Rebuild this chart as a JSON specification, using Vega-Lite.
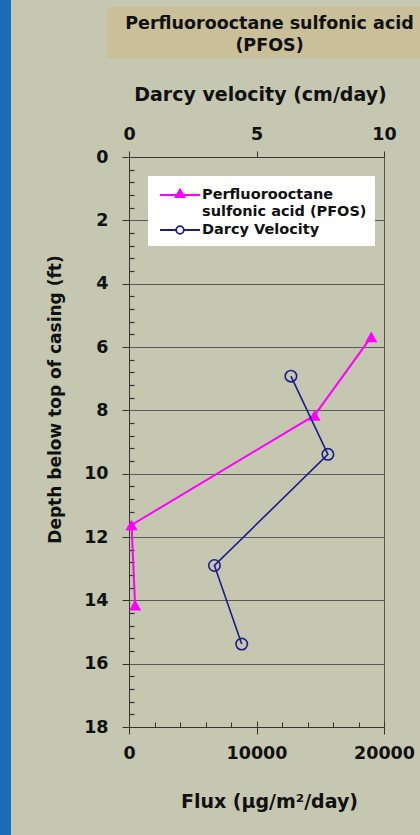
{
  "$schema": "https://vega.github.io/schema/vega-lite/v6.json",
  "width": 255,
  "height": 570,
  "autosize": {"type": "none"},
  "padding": {"left": 129, "top": 157, "right": 36, "bottom": 108},
  "background": "#c5c7b1",
  "title": {
    "text": ["Perfluorooctane sulfonic acid", "(PFOS)"],
    "font": "DejaVu Sans",
    "fontWeight": "bold",
    "fontSize": 17.5,
    "color": "#111111",
    "anchor": "middle",
    "lineHeight": 22,
    "offset": -54,
    "dx": 13
  },
  "datasets": {
    "pfos": [
      {"series": "Perfluorooctane sulfonic acid (PFOS)", "flux": 19000, "depth": 5.68},
      {"series": "Perfluorooctane sulfonic acid (PFOS)", "flux": 14550, "depth": 8.16},
      {"series": "Perfluorooctane sulfonic acid (PFOS)", "flux": 200, "depth": 11.62},
      {"series": "Perfluorooctane sulfonic acid (PFOS)", "flux": 480, "depth": 14.15}
    ],
    "darcy": [
      {"series": "Darcy Velocity", "velocity": 6.35, "depth": 6.92},
      {"series": "Darcy Velocity", "velocity": 7.8, "depth": 9.39},
      {"series": "Darcy Velocity", "velocity": 3.35, "depth": 12.9},
      {"series": "Darcy Velocity", "velocity": 4.42, "depth": 15.38}
    ]
  },
  "config": {
    "view": {"fill": "white", "stroke": "#555555", "strokeWidth": 1},
    "axis": {
      "labelFont": "DejaVu Sans",
      "labelFontWeight": "bold",
      "labelFontSize": 17.5,
      "labelColor": "#111111",
      "titleFont": "DejaVu Sans",
      "titleFontWeight": "bold",
      "titleColor": "#111111",
      "domainColor": "#333333",
      "tickColor": "#333333",
      "grid": true,
      "labelOverlap": false,
      "labelFlush": false,
      "labelBound": false
    }
  },
  "layer": [
    {
      "data": {"name": "pfos"},
      "encoding": {
        "x": {
          "field": "flux",
          "type": "quantitative",
          "scale": {"domain": [0, 20000], "nice": false, "zero": false},
          "axis": {
            "orient": "bottom",
            "values": [0, 2000, 4000, 6000, 8000, 10000, 12000, 14000, 16000, 18000, 20000],
            "tickCount": 100,
            "labelExpr": "datum.value % 10000 === 0 ? '' + datum.value : ''",
            "tickSize": 7,
            "labelPadding": 10,
            "tickOpacity": {"condition": {"test": "datum.value % 10000 !== 0", "value": 0}, "value": 1},
            "gridDash": {"condition": {"test": "datum.value % 10000 !== 0", "value": [5, 1000]}, "value": [6, 1000]},
            "gridColor": "#333333",
            "gridOpacity": 1,
            "title": "Flux (µg/m²/day)",
            "titleFontSize": 19,
            "titleX": 140,
            "titleY": 80,
            "titleBaseline": "alphabetic"
          }
        },
        "y": {
          "field": "depth",
          "type": "quantitative",
          "scale": {"domain": [0, 18], "reverse": true, "nice": false, "zero": false},
          "axis": {
            "orient": "left",
            "values": [0, 0.4, 0.8, 1.2, 1.6, 2, 2.4, 2.8, 3.2, 3.6, 4, 4.4, 4.8, 5.2, 5.6, 6, 6.4, 6.8, 7.2, 7.6, 8, 8.4, 8.8, 9.2, 9.6, 10, 10.4, 10.8, 11.2, 11.6, 12, 12.4, 12.8, 13.2, 13.6, 14, 14.4, 14.8, 15.2, 15.6, 16, 16.4, 16.8, 17.2, 17.6, 18],
            "tickCount": 100,
            "labelExpr": "datum.value % 2 === 0 ? '' + datum.value : ''",
            "tickSize": 7,
            "labelPadding": 14,
            "tickOpacity": {"condition": {"test": "datum.value % 2 !== 0", "value": 0}, "value": 1},
            "gridDash": {"condition": {"test": "datum.value % 2 !== 0", "value": [5, 1000]}, "value": []},
            "gridColor": {"condition": {"test": "datum.value % 2 !== 0", "value": "#333333"}, "value": "#5a5a5a"},
            "gridOpacity": 1,
            "gridWidth": 1.2,
            "title": "Depth below top of casing (ft)",
            "titleFontSize": 17,
            "titleX": -69,
            "titleY": 242,
            "titleBaseline": "alphabetic"
          }
        },
        "order": {"field": "depth", "type": "quantitative"}
      },
      "layer": [
        {"mark": {"type": "line", "color": "#ff00ff", "strokeWidth": 2}},
        {"mark": {"type": "point", "shape": "triangle-up", "filled": true, "color": "#ff00ff", "size": 150, "opacity": 1}}
      ]
    },
    {
      "data": {"name": "darcy"},
      "encoding": {
        "x": {
          "field": "velocity",
          "type": "quantitative",
          "scale": {"domain": [0, 10], "nice": false, "zero": false},
          "axis": {
            "orient": "top",
            "values": [0, 1, 2, 3, 4, 5, 6, 7, 8, 9, 10],
            "tickCount": 100,
            "labelExpr": "datum.value % 5 === 0 ? '' + datum.value : ''",
            "tickSize": 6,
            "labelPadding": 8,
            "tickOpacity": {"condition": {"test": "datum.value % 5 !== 0", "value": 0}, "value": 1},
            "gridDash": {"condition": {"test": "datum.value % 5 !== 0", "value": [5, 1000]}, "value": [6, 1000]},
            "gridColor": "#333333",
            "gridOpacity": 1,
            "title": "Darcy velocity (cm/day)",
            "titleFontSize": 19,
            "titleX": 131,
            "titleY": -57,
            "titleBaseline": "alphabetic"
          }
        },
        "y": {"field": "depth", "type": "quantitative", "axis": null},
        "order": {"field": "depth", "type": "quantitative"}
      },
      "layer": [
        {"mark": {"type": "line", "color": "#1c1c8c", "strokeWidth": 1.6}},
        {"mark": {"type": "point", "shape": "circle", "filled": false, "color": "#1c1c8c", "strokeWidth": 1.6, "size": 130, "opacity": 1}}
      ]
    },
    {
      "data": {"name": "pfos"},
      "transform": [{"filter": "datum.depth < 0"}],
      "mark": {"type": "point", "filled": true, "opacity": 1},
      "encoding": {
        "fill": {
          "field": "series",
          "type": "nominal",
          "scale": {"domain": ["Perfluorooctane sulfonic acid (PFOS)", "Darcy Velocity"], "range": ["#ff00ff", "#ffffff"]},
          "legend": {"orient": "none", "legendX": 19, "legendY": 19, "title": null, "fillColor": "white", "padding": 8, "symbolSize": 400, "symbolStrokeWidth": 1.8, "symbolOffset": 13, "labelOffset": 11, "labelFont": "DejaVu Sans", "labelFontWeight": "bold", "labelFontSize": 14.5, "labelColor": "#111111", "labelLimit": 300, "labelLineHeight": 19, "rowPadding": 1, "labelExpr": "datum.label == 'Perfluorooctane sulfonic acid (PFOS)' ? ['Perfluorooctane', 'sulfonic acid (PFOS)'] : datum.label"}
        },
        "stroke": {
          "field": "series",
          "type": "nominal",
          "scale": {"domain": ["Perfluorooctane sulfonic acid (PFOS)", "Darcy Velocity"], "range": ["#ff00ff", "#1c1c8c"]},
          "legend": {"orient": "none", "legendX": 19, "legendY": 19, "title": null, "fillColor": "white", "padding": 8, "symbolSize": 400, "symbolStrokeWidth": 1.8, "symbolOffset": 13, "labelOffset": 11, "labelFont": "DejaVu Sans", "labelFontWeight": "bold", "labelFontSize": 14.5, "labelColor": "#111111", "labelLimit": 300, "labelLineHeight": 19, "rowPadding": 1, "labelExpr": "datum.label == 'Perfluorooctane sulfonic acid (PFOS)' ? ['Perfluorooctane', 'sulfonic acid (PFOS)'] : datum.label"}
        },
        "shape": {
          "field": "series",
          "type": "nominal",
          "scale": {"domain": ["Perfluorooctane sulfonic acid (PFOS)", "Darcy Velocity"], "range": ["M-2,0H2M-0.45,0.22L0,-0.55L0.45,0.22Z", "M-2,0H-0.38M0.38,0H2M-0.38,0A0.38,0.38,0,1,0,0.38,0A0.38,0.38,0,1,0,-0.38,0Z"]},
          "legend": {"orient": "none", "legendX": 19, "legendY": 19, "title": null, "fillColor": "white", "padding": 8, "symbolSize": 400, "symbolStrokeWidth": 1.8, "symbolOffset": 13, "labelOffset": 11, "labelFont": "DejaVu Sans", "labelFontWeight": "bold", "labelFontSize": 14.5, "labelColor": "#111111", "labelLimit": 300, "labelLineHeight": 19, "rowPadding": 1, "labelExpr": "datum.label == 'Perfluorooctane sulfonic acid (PFOS)' ? ['Perfluorooctane', 'sulfonic acid (PFOS)'] : datum.label"}
        }
      }
    },
    {
      "data": {"name": "pfos"},
      "transform": [{"filter": "datum.depth < 0"}],
      "mark": {"type": "point", "filled": true, "opacity": 1},
      "encoding": {
        "color": {
          "field": "depth",
          "type": "quantitative",
          "scale": {"domain": [0, 18], "range": ["#1b6db5", "#1b6db5"]},
          "legend": {"orient": "none", "legendX": -129, "legendY": -157, "direction": "vertical", "gradientLength": 835, "gradientThickness": 11, "gradientStrokeWidth": 0, "gradientOpacity": 1, "padding": 0, "title": null, "labelExpr": "''", "labelFontSize": 1, "labelOpacity": 0}
        }
      }
    },
    {
      "data": {"name": "darcy"},
      "transform": [{"filter": "datum.depth < 0"}],
      "mark": {"type": "point", "filled": true, "opacity": 1},
      "encoding": {
        "color": {
          "field": "velocity",
          "type": "quantitative",
          "scale": {"domain": [0, 10], "range": ["#c9bf99", "#c9bf99"]},
          "legend": {"orient": "none", "legendX": -22, "legendY": -150, "direction": "horizontal", "gradientLength": 330, "gradientThickness": 51, "gradientStrokeWidth": 0, "gradientOpacity": 1, "padding": 0, "title": null, "labelExpr": "''", "labelFontSize": 1, "labelOpacity": 0}
        }
      }
    }
  ],
  "resolve": {
    "scale": {"x": "independent", "color": "independent"},
    "axis": {"x": "independent", "y": "independent"},
    "legend": {"color": "independent"}
  }
}
